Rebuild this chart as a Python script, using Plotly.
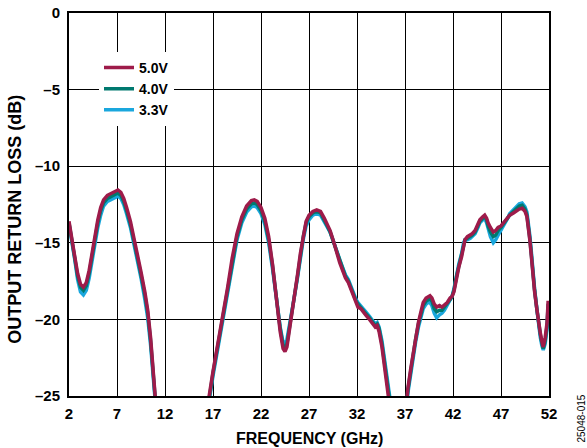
import plotly.graph_objects as go

freq_ghz = [2.0, 2.3, 2.6, 2.9, 3.2, 3.5, 3.8, 4.1, 4.4, 4.7, 5.0, 5.3, 5.6, 6.0, 6.4, 6.8, 7.1, 7.4, 7.7, 8.0,
            8.4, 8.8, 9.1, 9.5, 9.9, 10.2, 10.5, 10.8, 11.0, 11.3, 11.6, 12.5, 15.5, 16.2, 16.6, 17.0, 17.5, 18.0,
            18.5, 19.0, 19.5, 20.0, 20.5, 21.0, 21.3, 21.6, 22.0, 22.4, 22.8, 23.2, 23.6, 24.0, 24.3, 24.5, 24.7,
            25.0, 25.4, 25.8, 26.1, 26.4, 26.7, 27.0, 27.4, 27.8, 28.2, 28.6,
            28.9, 29.2, 29.6, 29.9, 30.2, 30.5, 30.8, 31.1, 31.4, 31.6, 31.9, 32.1, 32.4, 32.6, 32.9, 33.3, 33.6,
            33.9, 34.1, 34.3, 34.6, 34.9, 35.2, 35.4, 35.6, 36.3, 37.0, 37.3, 37.6, 37.8, 38.1, 38.4, 38.7, 38.9,
            39.2, 39.4, 39.6, 39.8, 40.05, 40.3, 40.6, 40.85, 41.1, 41.4, 41.7, 41.9, 42.1, 42.4, 42.6, 42.9, 43.1,
            43.25, 43.5, 43.8, 44.0, 44.3, 44.6, 44.8, 45.1, 45.3, 45.5, 45.65, 45.9, 46.2, 46.45, 46.7, 47.0, 47.4,
            47.7, 47.9, 48.3, 48.6, 48.9, 49.2, 49.5, 49.7, 49.85, 50.0, 50.15, 50.3, 50.5, 50.75, 50.9, 51.1,
            51.25, 51.4, 51.6, 51.8, 51.9, 52.0]

loss_5v0 = [-13.6, -14.6, -15.9, -17.0, -17.7, -17.9, -17.6, -16.8, -15.7, -14.5, -13.5, -12.7, -12.2, -11.9, -11.75,
            -11.6, -11.55, -11.7, -12.1, -12.7, -13.6, -14.8, -15.6, -16.9, -18.2, -19.4, -21.2, -23.3, -24.8, -27.5,
            -30, -33, -33, -28, -25.0, -23.4, -21.6, -20.0, -18.0, -16.0, -14.4, -13.3, -12.6, -12.25, -12.2, -12.3,
            -12.7, -13.4, -14.6, -16.4, -18.7, -20.8, -21.9, -22.1, -21.8, -20.6, -18.8, -17.1, -15.7, -14.5, -13.6,
            -13.2, -12.95, -12.85, -12.95, -13.4,
            -13.8, -14.2, -15.0, -15.7, -16.3, -16.8, -17.3, -17.6, -18.1, -18.4, -18.9, -19.2, -19.3, -19.5, -19.7,
            -20.0, -20.3, -20.5, -20.4, -20.8, -21.8, -23.1, -24.2, -25.0, -26.5, -30, -26.5, -24.5, -23.2, -22.4,
            -21.2, -20.2, -19.4, -18.9, -18.6, -18.5, -18.45, -18.6, -19.0, -19.2, -19.1, -19.2, -19.05, -18.9,
            -18.6, -18.5, -18.2, -17.2, -16.6, -15.9, -15.2, -14.8, -14.6, -14.5, -14.4, -14.2, -13.8, -13.5, -13.3,
            -13.2, -13.4, -13.7, -14.0, -14.3, -14.2, -14.0, -13.9, -13.6, -13.4, -13.2, -13.05, -12.9, -12.8,
            -12.75, -12.95, -13.3, -13.9, -14.8, -15.8, -17.0, -18.2, -19.4, -20.2, -20.9, -21.4, -21.8, -21.2,
            -20.2, -18.9, -18.9]

loss_4v0 = [-13.7, -14.7, -16.0, -17.2, -17.9, -18.1, -17.8, -17.0, -15.9, -14.7, -13.7, -12.9, -12.4, -12.1, -11.95,
            -11.8, -11.75, -11.9, -12.3, -12.9, -13.8, -15.0, -15.8, -17.1, -18.4, -19.6, -21.4, -23.5, -25.0, -27.7,
            -30, -33, -33, -28.2, -25.2, -23.5, -21.7, -20.1, -18.2, -16.2, -14.6, -13.5, -12.8, -12.45, -12.4, -12.5,
            -12.9, -13.6, -14.8, -16.5, -18.7, -20.6, -21.7, -21.9, -21.6, -20.5, -18.8, -17.2, -15.8, -14.6, -13.7,
            -13.3, -13.05, -12.95, -13.05, -13.5,
            -13.9, -14.3, -15.0, -15.6, -16.2, -16.7, -17.2, -17.5, -18.0, -18.3, -18.8, -19.0, -19.2, -19.4, -19.6,
            -19.9, -20.2, -20.4, -20.3, -20.6, -21.6, -22.9, -24.0, -24.8, -26.2, -30, -26.6, -24.6, -23.3, -22.5,
            -21.3, -20.3, -19.5, -19.1, -18.8, -18.7, -18.65, -18.8, -19.3, -19.5, -19.4, -19.4, -19.2, -19.0,
            -18.7, -18.5, -18.1, -17.1, -16.5, -15.8, -15.1, -14.8, -14.7, -14.6, -14.5, -14.3, -13.9, -13.6, -13.4,
            -13.3, -13.5, -13.9, -14.3, -14.6, -14.5, -14.2, -14.0, -13.6, -13.4, -13.2, -12.95, -12.75, -12.6,
            -12.55, -12.8, -13.2, -13.8, -14.7, -15.7, -16.9, -18.1, -19.4, -20.3, -21.0, -21.5, -21.9, -21.4,
            -20.4, -19.1, -19.1]

loss_3v3 = [-13.8, -14.8, -16.1, -17.4, -18.2, -18.4, -18.1, -17.3, -16.2, -15.0, -14.0, -13.2, -12.6, -12.3, -12.15,
            -12.0, -11.95, -12.1, -12.5, -13.1, -14.0, -15.2, -16.0, -17.3, -18.7, -19.9, -21.7, -23.8, -25.3, -28.0,
            -30, -33, -33, -28.3, -25.3, -23.7, -21.9, -20.3, -18.4, -16.4, -14.8, -13.7, -13.0, -12.65, -12.6, -12.7,
            -13.1, -13.8, -15.0, -16.7, -18.8, -20.5, -21.5, -21.6, -21.3, -20.3, -18.8, -17.3, -15.9, -14.8, -13.9,
            -13.5, -13.2, -13.1, -13.2, -13.6,
            -14.0, -14.3, -15.0, -15.6, -16.1, -16.6, -17.1, -17.4, -17.9, -18.2, -18.7, -18.9, -19.1, -19.3, -19.5,
            -19.8, -20.1, -20.3, -20.2, -20.5, -21.4, -22.7, -23.8, -24.6, -25.9, -30, -26.8, -24.8, -23.5, -22.7,
            -21.5, -20.5, -19.7, -19.3, -19.0, -18.9, -18.9, -19.1, -19.6, -19.9, -19.7, -19.6, -19.4, -19.1,
            -18.8, -18.5, -18.0, -17.0, -16.4, -15.7, -15.0, -14.8, -14.8, -14.7, -14.6, -14.4, -14.0, -13.7, -13.5,
            -13.4, -13.7, -14.1, -14.6, -15.0, -14.8, -14.5, -14.2, -13.7, -13.4, -13.1, -12.85, -12.6, -12.45,
            -12.4, -12.65, -13.0, -13.6, -14.5, -15.5, -16.7, -18.0, -19.4, -20.4, -21.2, -21.7, -22.0, -21.6,
            -20.6, -19.3, -19.3]

series_names = ["5.0V", "4.0V", "3.3V"]
series_colors = ["#9E1B4A", "#00796F", "#1AA7DD"]
x_ticks = [2, 7, 12, 17, 22, 27, 32, 37, 42, 47, 52]
y_ticks = [-25, -20, -15, -10, -5, 0]
y_tick_text = ["\u201325", "\u201320", "\u201315", "\u201310", "\u20135", "0"]
x_title = "FREQUENCY (GHz)"
y_title = "OUTPUT RETURN LOSS (dB)"
figure_id = "25048-015"

FONT = "Arial, Liberation Sans, Helvetica, sans-serif"
TICK_FONT = dict(family=FONT, size=15, color="black", weight="bold")

fig = go.Figure()
series_data = [loss_5v0, loss_4v0, loss_3v3]
# draw 3.3V first, 5.0V last (on top)
for i in [2, 1, 0]:
    fig.add_trace(go.Scatter(
        x=freq_ghz, y=series_data[i], mode="lines", name=series_names[i],
        line=dict(color=series_colors[i], width=3.5), legendrank=i + 1,
    ))

fig.update_layout(
    width=587, height=448,
    margin=dict(l=69, r=38, t=13, b=52, autoexpand=False),
    paper_bgcolor="white", plot_bgcolor="white",
    font=dict(family=FONT, size=12, color="black"),
    showlegend=True,
    legend=dict(
        x=0.0625, y=0.8985, xanchor="left", yanchor="top",
        bgcolor="white", borderwidth=0,
        font=dict(family=FONT, size=14, color="black", weight="bold"),
        itemwidth=30, tracegroupgap=0, traceorder="normal",
    ),
    xaxis=dict(
        range=[2, 52], tickvals=x_ticks, ticktext=[str(v) for v in x_ticks],
        showgrid=True, gridcolor="black", gridwidth=1,
        showline=True, linecolor="black", linewidth=2, mirror=True,
        ticks="", zeroline=False, automargin=False, ticklabelstandoff=3,
        tickfont=TICK_FONT,
    ),
    yaxis=dict(
        range=[-25, 0], tickvals=y_ticks, ticktext=y_tick_text,
        showgrid=True, gridcolor="black", gridwidth=1,
        showline=True, linecolor="black", linewidth=2, mirror=True,
        ticks="", zeroline=False, automargin=False, ticklabelstandoff=4,
        tickfont=TICK_FONT,
    ),
    annotations=[
        dict(text=x_title, x=0.5, y=0.0, xref="paper", yref="paper",
             xanchor="center", yanchor="middle", yshift=-42, showarrow=False,
             font=dict(family=FONT, size=16, color="black", weight="bold")),
        dict(text=y_title, x=0.0, y=0.46, xref="paper", yref="paper",
             xanchor="center", yanchor="middle", xshift=-54, textangle=-90, showarrow=False,
             font=dict(family=FONT, size=18, color="black", weight="bold")),
        dict(text=figure_id, x=1.0, y=0.0, xref="paper", yref="paper",
             xanchor="left", yanchor="bottom", xshift=24, yshift=-49,
             textangle=-90, showarrow=False,
             font=dict(family=FONT, size=10, color="black")),
    ],
)

fig.write_html("out.html")
